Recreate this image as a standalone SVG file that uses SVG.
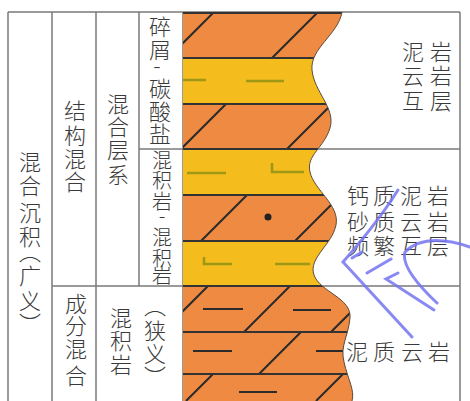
<svg xmlns="http://www.w3.org/2000/svg" width="470" height="401" viewBox="0 0 470 401">
  <style>
    .grid { stroke: #7a7a7a; stroke-width: 1.5; fill: none; }
    .lbl { font-family: "Noto Sans CJK SC", "Noto Sans", sans-serif; font-size: 22px; font-weight: 300; fill: #3a3a3a; text-anchor: middle; }
    .sm { font-size: 20px; }
    .orange { fill: #EF8A43; }
    .yellow { fill: #F5BC1E; }
    .bed { stroke: #333; stroke-width: 2; fill: none; }
    .hatch { stroke: #2b2b2b; stroke-width: 2; fill: none; }
    .marl { stroke: #9E9814; stroke-width: 2.5; fill: none; }
    .mark { stroke: #7474F2; stroke-width: 3; fill: none; stroke-linecap: round; opacity: 0.85; }
  </style>
  <defs>
    <clipPath id="rockClip">
      <path d="M 183,12 L 342,12 C 338,35 310,48 312,70 C 314,92 336,108 330,128 C 324,148 306,155 310,172 C 314,190 340,205 336,225 C 332,245 308,258 314,275 C 320,292 352,298 350,318 C 348,338 340,345 344,362 C 348,380 355,390 352,401 L 183,401 Z"/>
    </clipPath>
  </defs>

  <rect width="470" height="401" fill="#ffffff"/>

  <!-- table frame -->
  <g id="frame">
    <path class="grid" d="M 8,12 H 460 M 8,12 V 401 M 52,12 V 401 M 96,12 V 401 M 139,12 V 286 M 183,12 V 401 M 460,12 V 401 M 139,149 H 460 M 52,286 H 460"/>
  </g>

  <!-- lithology column -->
  <g id="lithology">
    <g clip-path="url(#rockClip)">
      <rect class="orange" x="183" y="12" width="180" height="46"/>
      <rect class="yellow" x="183" y="58" width="180" height="46"/>
      <rect class="orange" x="183" y="104" width="180" height="45"/>
      <rect class="yellow" x="183" y="149" width="180" height="46"/>
      <rect class="orange" x="183" y="195" width="180" height="46"/>
      <rect class="yellow" x="183" y="241" width="180" height="45"/>
      <rect class="orange" x="183" y="286" width="180" height="115"/>
      <!-- dolomite hatching -->
      <path class="hatch" d="M 180,46 L 214,12 M 272,58 L 318,12 M 181,149 L 226,104 M 287,149 L 332,104 M 201,241 L 247,195 M 295,241 L 341,195 M 162,332 L 208,286 M 244,332 L 290,286 M 331,332 L 377,286 M 259,374 L 301,332 M 186,401 L 213,374 M 316,401 L 343,374"/>
      <!-- mud dashes -->
      <path class="hatch" d="M 203,309 H 243 M 293,310 H 331 M 193,351 H 232 M 316,351 H 346 M 239,392 H 277"/>
      <!-- marl dashes -->
      <path class="marl" d="M 183,80 H 206 M 246,81 H 284 M 187,173 H 226 M 272,163 V 172 H 304 M 204,257 V 264 H 232 M 275,264 H 310"/>
      <circle cx="268" cy="217" r="3.5" fill="#222"/>
      <!-- bed boundaries -->
      <path class="bed" d="M 183,13 H 360 M 183,58 H 360 M 183,104 H 360 M 183,149 H 360 M 183,195 H 360 M 183,241 H 360 M 183,286 H 360 M 183,332 H 360 M 183,374 H 360"/>
    </g>
    <path d="M 342,12 C 338,35 310,48 312,70 C 314,92 336,108 330,128 C 324,148 306,155 310,172 C 314,190 340,205 336,225 C 332,245 308,258 314,275 C 320,292 352,298 350,318 C 348,338 340,345 344,362 C 348,380 355,390 352,401" fill="none" stroke="#5a4a3a" stroke-width="1"/>
  </g>

  <!-- column labels, one glyph per cell -->
  <g id="col-broad">
    <text class="lbl"><tspan x="30" y="170">混</tspan><tspan x="30" y="194">合</tspan><tspan x="30" y="221">沉</tspan><tspan x="30" y="245">积</tspan><tspan x="30" y="260">︵</tspan><tspan x="30" y="284">广</tspan><tspan x="30" y="309">义</tspan><tspan x="30" y="332">︶</tspan></text>
  </g>
  <g id="col-structure">
    <text class="lbl"><tspan x="75" y="119">结</tspan><tspan x="75" y="144">构</tspan><tspan x="75" y="167">混</tspan><tspan x="75" y="190">合</tspan></text>
  </g>
  <g id="col-composition">
    <text class="lbl"><tspan x="76" y="312">成</tspan><tspan x="76" y="334">分</tspan><tspan x="76" y="357">混</tspan><tspan x="76" y="384">合</tspan></text>
  </g>
  <g id="col-series">
    <text class="lbl"><tspan x="118" y="112">混</tspan><tspan x="118" y="135">合</tspan><tspan x="118" y="158">层</tspan><tspan x="118" y="183">系</tspan></text>
  </g>
  <g id="col-narrow">
    <text class="lbl"><tspan x="121" y="326">混</tspan><tspan x="121" y="349">积</tspan><tspan x="121" y="373">岩</tspan></text>
    <text class="lbl"><tspan x="155" y="314">︵</tspan><tspan x="155" y="339">狭</tspan><tspan x="155" y="362">义</tspan><tspan x="155" y="385">︶</tspan></text>
  </g>
  <g id="col-clastic-carbonate">
    <text class="lbl"><tspan x="160" y="35">碎</tspan><tspan x="160" y="58">屑</tspan><tspan x="157" y="74">-</tspan><tspan x="160" y="97">碳</tspan><tspan x="160" y="120">酸</tspan><tspan x="160" y="142">盐</tspan></text>
  </g>
  <g id="col-mixed-mixed">
    <text class="lbl sm"><tspan x="162" y="168">混</tspan><tspan x="162" y="188">积</tspan><tspan x="162" y="209">岩</tspan><tspan x="162" y="223">-</tspan><tspan x="162" y="245">混</tspan><tspan x="162" y="266">积</tspan><tspan x="162" y="283">岩</tspan></text>
  </g>

  <!-- lithology descriptions -->
  <g id="desc-interbed">
    <text class="lbl"><tspan x="413" y="60">泥</tspan><tspan x="441" y="60">岩</tspan><tspan x="413" y="84">云</tspan><tspan x="441" y="84">岩</tspan><tspan x="413" y="109">互</tspan><tspan x="441" y="109">层</tspan></text>
  </g>
  <g id="desc-frequent">
    <text class="lbl"><tspan x="358" y="204">钙</tspan><tspan x="384" y="204">质</tspan><tspan x="411" y="204">泥</tspan><tspan x="438" y="204">岩</tspan><tspan x="358" y="230">砂</tspan><tspan x="384" y="230">质</tspan><tspan x="411" y="230">云</tspan><tspan x="438" y="230">岩</tspan><tspan x="358" y="254">频</tspan><tspan x="384" y="254">繁</tspan><tspan x="411" y="254">互</tspan><tspan x="438" y="254">层</tspan></text>
  </g>
  <g id="desc-muddy">
    <text class="lbl"><tspan x="357" y="360">泥</tspan><tspan x="384" y="360">质</tspan><tspan x="412" y="360">云</tspan><tspan x="439" y="360">岩</tspan></text>
  </g>

  <!-- blue hand-drawn mark -->
  <g id="mark">
    <path class="mark" d="M 398,190 Q 378,222 343,262 L 412,337"/>
    <path class="mark" d="M 352,258 L 362,252"/>
    <path class="mark" d="M 367,273 L 391,259"/>
    <path class="mark" d="M 398,273 L 386,279 L 434,310"/>
    <path class="mark" d="M 437,303 Q 400,268 405,252 Q 425,232 470,247"/>
  </g>
</svg>
